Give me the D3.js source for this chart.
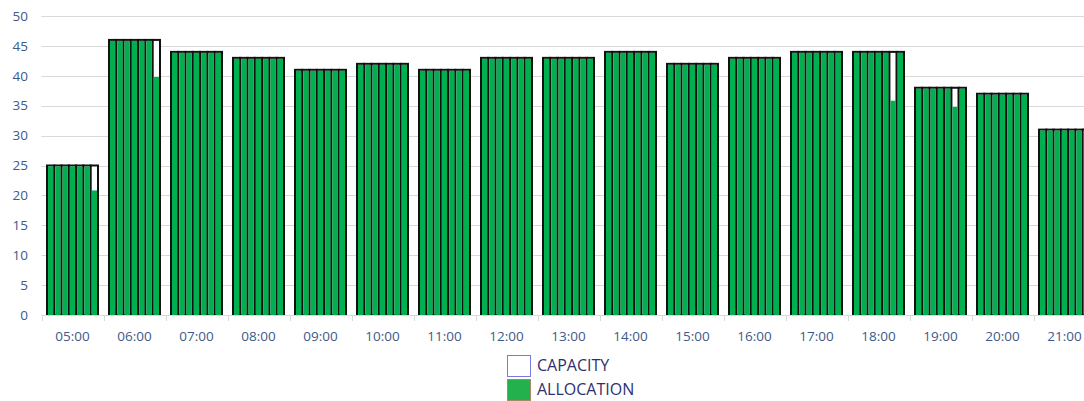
<!DOCTYPE html>
<html>
<head>
<meta charset="utf-8">
<script src="https://cdn.jsdelivr.net/npm/d3@7"></script>
<style>
  html, body { margin: 0; padding: 0; background: #fff; overflow: hidden; }
  svg { display: block; }
  .tick-label { font-family: "Open Sans", sans-serif; font-size: 13.5px; fill: #3d5a8a; }
  .legend-label { font-family: "Open Sans", sans-serif; font-size: 16px; fill: #2e2f6e; }
</style>
</head>
<body>
<div id="chart"></div>
<script>
// hour slots along the x axis
const categories = ["05:00", "06:00", "07:00", "08:00", "09:00", "10:00", "11:00", "12:00",
  "13:00", "14:00", "15:00", "16:00", "17:00", "18:00", "19:00", "20:00", "21:00"];

// capacity per hour (same for each of the 7 columns in a group)
const capacity = [25, 46, 44, 43, 41, 42, 41, 43, 43, 44, 42, 43, 44, 44, 38, 37, 31];

// allocation per column, 7 columns per hour
const allocation = [
  [25, 25, 25, 25, 25, 25, 21],
  [46, 46, 46, 46, 46, 46, 40],
  [44, 44, 44, 44, 44, 44, 44],
  [43, 43, 43, 43, 43, 43, 43],
  [41, 41, 41, 41, 41, 41, 41],
  [42, 42, 42, 42, 42, 42, 42],
  [41, 41, 41, 41, 41, 41, 41],
  [43, 43, 43, 43, 43, 43, 43],
  [43, 43, 43, 43, 43, 43, 43],
  [44, 44, 44, 44, 44, 44, 44],
  [42, 42, 42, 42, 42, 42, 42],
  [43, 43, 43, 43, 43, 43, 43],
  [44, 44, 44, 44, 44, 44, 44],
  [44, 44, 44, 44, 44, 36, 44],
  [38, 38, 38, 38, 38, 35, 38],
  [37, 37, 37, 37, 37, 37, 37],
  [31, 31, 31, 31, 31, 31, 31]
];

const yTicks = [0, 5, 10, 15, 20, 25, 30, 35, 40, 45, 50];
const legendItems = ["CAPACITY", "ALLOCATION"];

var width = 1084, height = 401;
var band = 62, plotLeft = 41.5;

var svg = d3.select("#chart").append("svg")
  .attr("width", width)
  .attr("height", height);

var x = d3.scaleBand()
  .domain(categories)
  .range([plotLeft, plotLeft + band * categories.length])
  .padding(0);

var x1 = d3.scaleBand()
  .domain(d3.range(7))
  .range([5.5, band - 5.5])
  .padding(0);

var y = d3.scaleLinear().domain([0, 50]).range([315, 16]);

// gridlines
svg.append("g")
  .selectAll("line")
  .data(yTicks.filter(d => d > 0))
  .enter().append("line")
    .attr("x1", plotLeft)
    .attr("x2", width + 20)
    .attr("y1", d => Math.round(y(d)) + 0.5)
    .attr("y2", d => Math.round(y(d)) + 0.5)
    .attr("stroke", "#d9d9d9")
    .attr("stroke-width", 1);

// y labels
svg.append("g")
  .selectAll("text")
  .data(yTicks)
  .enter().append("text")
    .attr("class", "tick-label")
    .attr("x", 28)
    .attr("y", d => y(d))
    .attr("dy", "0.35em")
    .attr("text-anchor", "end")
    .text(d => d);

// bars
var groups = svg.append("g")
  .selectAll("g")
  .data(categories)
  .enter().append("g")
    .attr("transform", d => "translate(" + x(d) + ",0)");

groups.selectAll(".cap")
  .data((d, i) => d3.range(7).map(j => ({ slot: j, value: capacity[i] })))
  .enter().append("rect")
    .attr("class", "cap")
    .attr("x", d => x1(d.slot))
    .attr("y", d => y(d.value))
    .attr("width", x1.bandwidth())
    .attr("height", d => y(0) - y(d.value))
    .attr("fill", "#fff")
    .attr("stroke", "#111")
    .attr("stroke-width", 2);

groups.selectAll(".alloc")
  .data((d, i) => allocation[i].map((v, j) => ({ slot: j, value: v })))
  .enter().append("rect")
    .attr("class", "alloc")
    .attr("x", d => x1(d.slot) + 1)
    .attr("y", d => y(d.value) + 1)
    .attr("width", x1.bandwidth() - 2)
    .attr("height", d => y(0) - y(d.value) - 1)
    .attr("fill", "#00b050");

// x axis
var xAxis = svg.append("g").attr("transform", "translate(0,315)");
xAxis.append("line")
  .attr("x1", plotLeft).attr("x2", width + 20)
  .attr("y1", 0.5).attr("y2", 0.5)
  .attr("stroke", "#d9d9d9");
xAxis.selectAll(".tk")
  .data(d3.range(categories.length + 1))
  .enter().append("line")
    .attr("x1", i => Math.round(plotLeft + i * band) + 0.5)
    .attr("x2", i => Math.round(plotLeft + i * band) + 0.5)
    .attr("y1", 0).attr("y2", 6)
    .attr("stroke", "#d9d9d9");
xAxis.selectAll("text")
  .data(categories)
  .enter().append("text")
    .attr("class", "tick-label")
    .attr("x", d => x(d) + x.bandwidth() / 2)
    .attr("y", 26)
    .attr("text-anchor", "middle")
    .text(d => d);

// legend
var legend = svg.append("g").attr("transform", "translate(507,355)");
legend.selectAll("rect")
  .data(legendItems)
  .enter().append("rect")
    .attr("x", 0.5)
    .attr("y", (d, i) => i * 24 + 0.5)
    .attr("width", 23)
    .attr("height", 21)
    .attr("fill", (d, i) => i === 0 ? "#fff" : "#22b14c")
    .attr("stroke", (d, i) => i === 0 ? "#7a78e6" : "#a58a6a")
    .attr("stroke-width", 1);
legend.selectAll("text")
  .data(legendItems)
  .enter().append("text")
    .attr("class", "legend-label")
    .attr("x", 30)
    .attr("y", (d, i) => i * 24 + 10)
    .attr("dy", "0.35em")
    .text(d => d);
</script>
</body>
</html>
